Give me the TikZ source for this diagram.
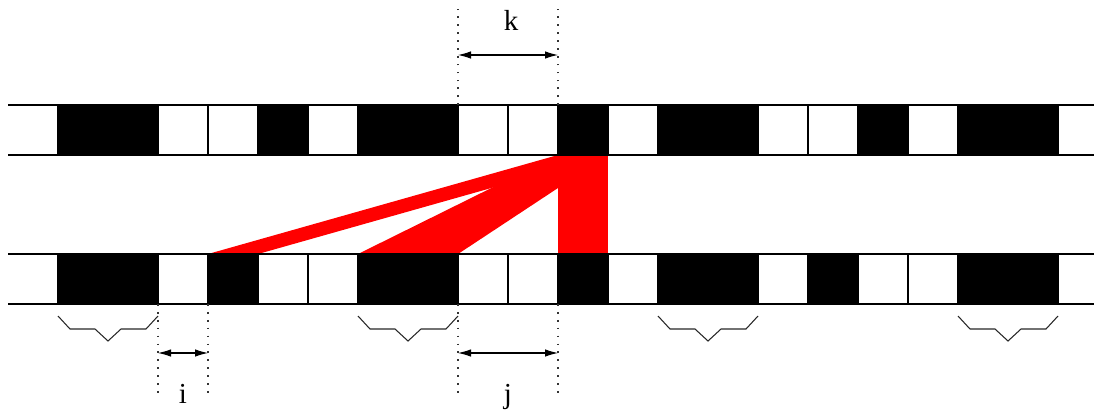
\documentclass[tikz,border=0pt]{standalone}
\usepackage{fontspec}
\setmainfont{Liberation Serif}
\usetikzlibrary{arrows.meta, calc, positioning}
\tikzset{
  % cella di una striscia
  cell/.style={minimum width=1cm, minimum height=1cm, inner sep=0pt, outer sep=0pt},
  % bordi e separatori delle strisce
  stripline/.style={line width=0.6pt, black},
  % collegamento evidenziato
  redlink/.style={fill=red},
  % parentesi sotto i blocchi
  blockbrace/.style={line width=0.6pt, black!85},
  % linee guida punteggiate
  guide/.style={line width=1pt, black!80, dash pattern=on 1pt off 3.5pt},
  % quote
  dimline/.style={{Latex[length=2.6mm,width=1.5mm]}-{Latex[length=2.6mm,width=1.5mm]}, line width=0.6pt},
  lbl/.style={font=\fontsize{16.5}{20}\selectfont, anchor=base},
}

\begin{document}
\begin{tikzpicture}
  \useasboundingbox (0,0) rectangle (21.88,-8.22);
  \clip (0,0) rectangle (21.88,-8.22);
  % strisce di celle
  \foreach \c [count=\i from 0] in {white,black,black,white,white,black,white,black,black,white,white,black,white,black,black,white,white,black,white,black,black,white}
    \node[cell, fill=\c] (t\i) at (\i+0.66,-2.6) {};
  \foreach \c [count=\i from 0] in {white,black,black,white,black,white,white,black,black,white,white,black,white,black,black,white,black,white,white,black,black,white}
    \node[cell, fill=\c] (b\i) at (\i+0.66,-5.58) {};
  % collegamenti verso la cella t11
  \foreach \a/\b in {4/4,7/8,11/11}
    \fill[redlink] (b\a.north west) -- (b\b.north east) -- (t11.south east) -- (t11.south west) -- cycle;
  % bordi
  \foreach \s in {t,b} {
    \draw[stripline] (\s0.north west) -- (\s21.north east);
    \draw[stripline] (\s0.south west) -- (\s21.south east);
    \foreach \i in {1,...,21}
      \draw[stripline] (\s\i.north west) -- (\s\i.south west);
  }
  % parentesi
  \foreach \a in {1,7,13,19}
    \draw[blockbrace, shift={(b\a.south west)}] (0,-0.24) -- (0.24,-0.5) -- (0.74,-0.5) -- (1,-0.74) -- (1.26,-0.5) -- (1.76,-0.5) -- (2,-0.24);
  % guide
  \foreach \n in {b3,b4,b9,b11}
    \draw[guide] (\n.south west) -- ++(0,-1.88);
  \foreach \n in {t9,t11}
    \draw[guide] (\n.north west) -- ++(0,1.92);
  % quote i, j, k
  \coordinate (i0) at ($(b3.south west)+(0,-0.98)$);
  \coordinate (i1) at ($(b4.south west)+(0,-0.98)$);
  \coordinate (j0) at ($(b9.south west)+(0,-0.98)$);
  \coordinate (j1) at ($(b11.south west)+(0,-0.98)$);
  \coordinate (k0) at ($(t9.north west)+(0,1.0)$);
  \coordinate (k1) at ($(t11.north west)+(0,1.0)$);
  \draw[dimline] (i0) -- (i1);
  \draw[dimline] (j0) -- (j1);
  \draw[dimline] (k0) -- (k1);
  \node[lbl] (ilbl) at ($(i0)!0.5!(i1)+(0,-1.0)$) {i};
  \node[lbl] (jlbl) at ($(j0)!0.5!(j1)+(0,-1.0)$) {j};
  \node[lbl] (klbl) at ($(k0)!0.5!(k1)+(0.06,0.5)$) {k};
\end{tikzpicture}
\end{document}
